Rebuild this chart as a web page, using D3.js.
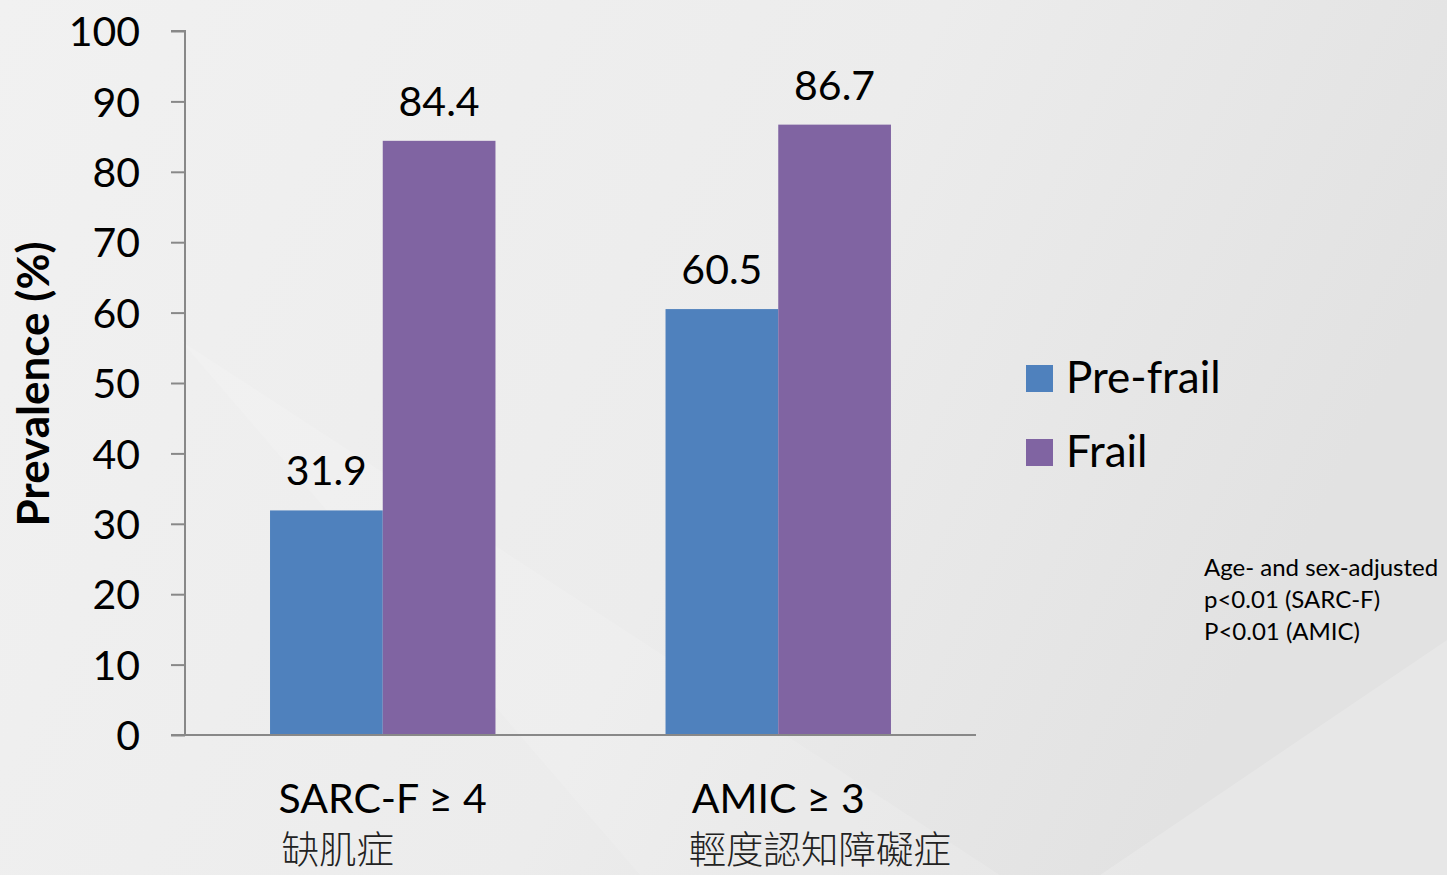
<!DOCTYPE html>
<html><head><meta charset="utf-8">
<script src="https://cdn.jsdelivr.net/npm/d3@7"></script>
<style>html,body{margin:0;padding:0;overflow:hidden;}svg{display:block;}</style>
</head><body>
<svg id="c" width="1447" height="875"></svg>
<script>
const categories = ["SARC-F ≥ 4", "AMIC ≥ 3"];
const subLabels = ["缺肌症", "輕度認知障礙症"];
const seriesNames = ["Pre-frail", "Frail"];
const preFrail = [31.9, 60.5];
const frail = [84.4, 86.7];
const yTicks = [0, 10, 20, 30, 40, 50, 60, 70, 80, 90, 100];
const noteLines = ["Age- and sex-adjusted", "p<0.01 (SARC-F)", "P<0.01 (AMIC)"];
const colors = ["#4f81bd", "#8064a2"];

const svg = d3.select("#c");
const W = 1447, H = 875;
const font = "Lato, 'Open Sans', sans-serif";

// background
const defs = svg.append("defs");
const g1 = defs.append("linearGradient").attr("id","bg").attr("x1","0").attr("y1","0").attr("x2","1").attr("y2","0.3");
g1.append("stop").attr("offset","0").attr("stop-color","#f1f1f1");
g1.append("stop").attr("offset","0.6").attr("stop-color","#ececec");
g1.append("stop").attr("offset","1").attr("stop-color","#e2e2e2");
svg.append("rect").attr("width",W).attr("height",H).attr("fill","url(#bg)");
svg.append("path").attr("d","M1100,875 L1447,640 L1447,875 Z").attr("fill","#ffffff").attr("opacity",0.18);
svg.append("path").attr("d","M180,340 L1000,875 L640,875 Z").attr("fill","#ffffff").attr("opacity",0.12);

const m = {left:185, right:976, top:31, bottom:735};
const y = d3.scaleLinear().domain([0,100]).range([m.bottom, m.top]);
const x0 = d3.scaleBand().domain(categories).range([m.left, m.right]).paddingInner(0.43).paddingOuter(0.215);
const x1 = d3.scaleBand().domain(seriesNames).range([0, x0.bandwidth()]);

// y axis
const yAxis = svg.append("g").attr("transform",`translate(${m.left},0)`)
  .call(d3.axisLeft(y).tickValues(yTicks).tickSize(14).tickPadding(31).tickFormat(d3.format("d")));
yAxis.select(".domain").attr("stroke","#888").attr("stroke-width",2).attr("d",`M-14,${m.top}H0V${m.bottom}`);
yAxis.selectAll(".tick line").attr("stroke","#888").attr("stroke-width",2);
yAxis.selectAll(".tick text").attr("font-family",font).attr("font-size",41).attr("fill","#000").attr("dy","0.36em");

// bars
const data = categories.map((c,i)=>({cat:c, vals:[{s:seriesNames[0],v:preFrail[i]},{s:seriesNames[1],v:frail[i]}]}));
const grp = svg.selectAll(".cat").data(data).enter().append("g").attr("transform",d=>`translate(${x0(d.cat)},0)`);
grp.selectAll("rect").data(d=>d.vals).enter().append("rect")
  .attr("x",d=>x1(d.s)).attr("width",x1.bandwidth())
  .attr("y",d=>y(d.v)).attr("height",d=>y(0)-y(d.v))
  .attr("fill",(d,i)=>colors[i]);
grp.selectAll("text.val").data(d=>d.vals).enter().append("text")
  .attr("x",d=>x1(d.s)+x1.bandwidth()/2).attr("y",d=>y(d.v)-25)
  .attr("text-anchor","middle").attr("font-family",font).attr("font-size",41).attr("fill","#000")
  .text(d=>d.v.toFixed(1));

// x axis line
svg.append("line").attr("x1",171).attr("x2",m.right).attr("y1",m.bottom).attr("y2",m.bottom)
  .attr("stroke","#888").attr("stroke-width",2);

// x labels
categories.forEach((c,i)=>{
  const cx = x0(c)+x0.bandwidth()/2;
  const t = svg.append("text").attr("x",cx).attr("y",813).attr("text-anchor","middle")
    .attr("font-family",font).attr("font-size",41).attr("fill","#000").text(c);
  const w = t.node().getComputedTextLength();
  svg.append("text").attr("x",cx - w/2 + (i===0?3:-3)).attr("y",863)
    .attr("font-family","'Noto Sans CJK TC', sans-serif").attr("font-weight",300).attr("font-size",37.5).attr("fill","#222")
    .text(subLabels[i]);
});

// y title
svg.append("text").attr("transform","translate(49,384) rotate(-90)").attr("text-anchor","middle")
  .attr("font-family",font).attr("font-weight",700).attr("font-size",44).attr("fill","#000").text("Prevalence (%)");

// legend
seriesNames.forEach((s,i)=>{
  const ly = 365 + i*74;
  svg.append("rect").attr("x",1026).attr("y",ly).attr("width",27).attr("height",27).attr("fill",colors[i]);
  svg.append("text").attr("x",1066).attr("y",ly+28).attr("font-family",font).attr("font-size",44).attr("fill","#000").text(s);
});

// note
noteLines.forEach((t,i)=>{
  svg.append("text").attr("x",1204).attr("y",576+i*32).attr("font-family",font).attr("font-size",24).attr("fill","#000").text(t);
});
</script>
</body></html>
